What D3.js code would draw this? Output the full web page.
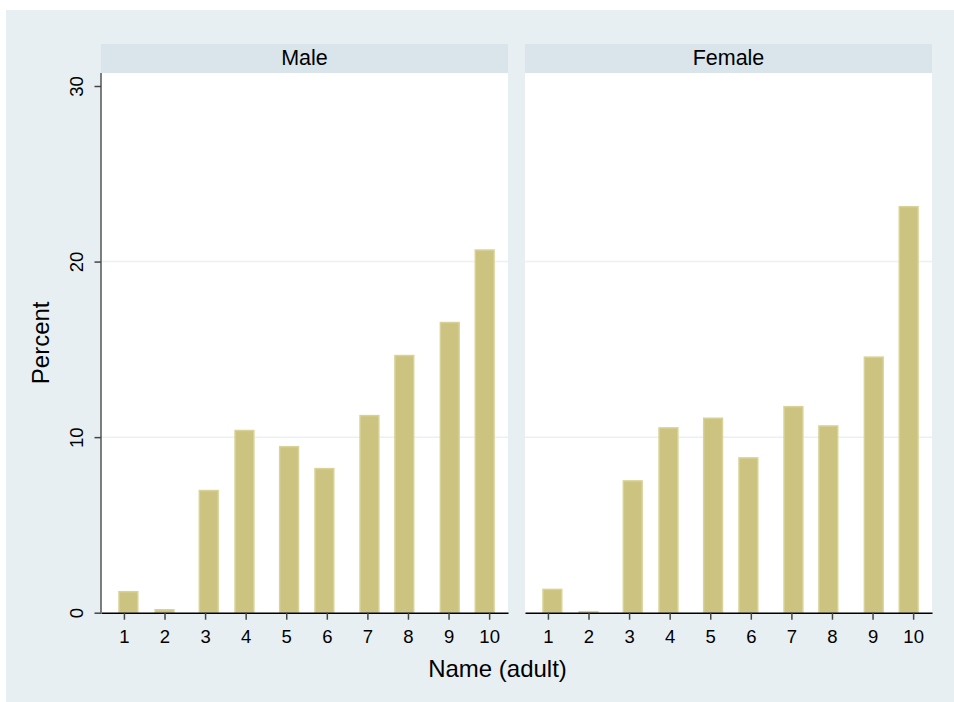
<!DOCTYPE html>
<html>
<head>
<meta charset="utf-8">
<script src="https://cdn.jsdelivr.net/npm/d3@7"></script>
<style>
  html, body { margin: 0; padding: 0; background: #fff; }
  svg text { font-family: "Liberation Sans", Arial, Helvetica, sans-serif; fill: #000; }
</style>
</head>
<body>
<svg id="chart" width="954" height="702"></svg>
<script>
// histogram data
const panels = ['Male', 'Female'];
const xTicks = [1, 2, 3, 4, 5, 6, 7, 8, 9, 10];
const binMid = [1.11, 2.0, 3.09, 3.97, 5.07, 5.94, 7.05, 7.91, 9.03, 9.89];
const malePct = [1.24, 0.21, 7.0, 10.42, 9.5, 8.25, 11.27, 14.69, 16.57, 20.7];
const femalePct = [1.37, 0.1, 7.55, 10.57, 11.12, 8.86, 11.78, 10.68, 14.6, 23.17];
const yTicks = [0, 10, 20, 30];
const gridTicks = [10, 20];

const BAR_W = 0.5;           // in x units
const BG = '#e8eff2', STRIP = '#d9e5eb', GRID = '#eaf1f3';
const BAR_FILL = '#cbc37f', BAR_EDGE = '#d9d298';

const svg = d3.select('#chart');

// outer background
svg.append('rect')
    .attr('x', 6).attr('y', 10)
    .attr('width', 954 - 6).attr('height', 702 - 10)
    .attr('fill', BG);

const plotTop = 73, stripTop = 44;
const panelX = [[101, 508], [525, 932]];

const y = d3.scaleLinear().domain([0, 30]).range([612.7, 86]);

panels.forEach((name, i) => {
    const [x0, x1] = panelX[i];
    const vals = i === 0 ? malePct : femalePct;
    const x = d3.scaleLinear().domain([0.435, 10.465]).range([x0, x1]);
    const g = svg.append('g');

    // strip header
    g.append('rect')
        .attr('x', x0).attr('y', stripTop)
        .attr('width', x1 - x0).attr('height', plotTop - stripTop)
        .attr('fill', STRIP);
    g.append('text')
        .attr('x', (x0 + x1) / 2).attr('y', 65)
        .attr('text-anchor', 'middle')
        .attr('font-size', 21.5)
        .text(name);

    // plot area
    g.append('rect')
        .attr('x', x0).attr('y', plotTop)
        .attr('width', x1 - x0).attr('height', y(0) - plotTop)
        .attr('fill', '#fff');

    g.selectAll('line.grid')
        .data(gridTicks)
        .join('line')
        .attr('class', 'grid')
        .attr('x1', x0).attr('x2', x1)
        .attr('y1', d => y(d)).attr('y2', d => y(d))
        .attr('stroke', GRID).attr('stroke-width', 1.5);

    // bars
    g.selectAll('rect.bar')
        .data(vals)
        .join('rect')
        .attr('class', 'bar')
        .attr('x', (d, j) => x(binMid[j] - BAR_W / 2) + 0.75)
        .attr('width', (d, j) => x(binMid[j] + BAR_W / 2) - x(binMid[j] - BAR_W / 2) - 1.5)
        .attr('y', d => y(d) + 0.75)
        .attr('height', d => Math.max(0, y(0) - y(d) - 0.75))
        .attr('fill', BAR_FILL)
        .attr('stroke', BAR_EDGE).attr('stroke-width', 1.5);

    // x axis
    const xAxis = d3.axisBottom(x).tickValues(xTicks).tickSize(7).tickPadding(10).tickSizeOuter(0);
    const ax = g.append('g')
        .attr('transform', `translate(0,${y(0)})`)
        .call(xAxis);
    ax.select('.domain').attr('stroke', '#000').attr('stroke-width', 1.5);
    ax.selectAll('.tick line').attr('stroke', '#444').attr('stroke-width', 1.5);
    ax.selectAll('.tick text')
        .attr('font-size', 18.5)
        .attr('font-family', '"Liberation Sans", Arial, sans-serif')
        .attr('fill', '#000');

    if (i === 0) {
        // y axis only on first panel
        const yAxis = d3.axisLeft(y).tickValues(yTicks).tickSize(6.5).tickSizeOuter(0).tickFormat(d3.format('d'));
        const ay = g.append('g')
            .attr('transform', `translate(${x0},0)`)
            .call(yAxis);
        ay.select('.domain')
            .attr('d', `M0,${plotTop}V${y(0)}`)
            .attr('stroke', '#555').attr('stroke-width', 1.5);
        ay.selectAll('.tick line').attr('stroke', '#444').attr('stroke-width', 1.5);
        ay.selectAll('.tick text')
            .attr('font-size', 18.5)
            .attr('font-family', '"Liberation Sans", Arial, sans-serif')
            .attr('fill', '#000')
            .attr('x', null).attr('dy', null)
            .attr('text-anchor', 'middle')
            .attr('transform', 'translate(-17.7,0) rotate(-90)');
    }
});

// axis titles
svg.append('text')
    .attr('x', 497.5).attr('y', 677.3)
    .attr('text-anchor', 'middle')
    .attr('font-size', 24)
    .text('Name (adult)');

svg.append('text')
    .attr('transform', `translate(48.5,${(plotTop + 612.7) / 2}) rotate(-90)`)
    .attr('text-anchor', 'middle')
    .attr('font-size', 24)
    .text('Percent');
</script>
</body>
</html>
